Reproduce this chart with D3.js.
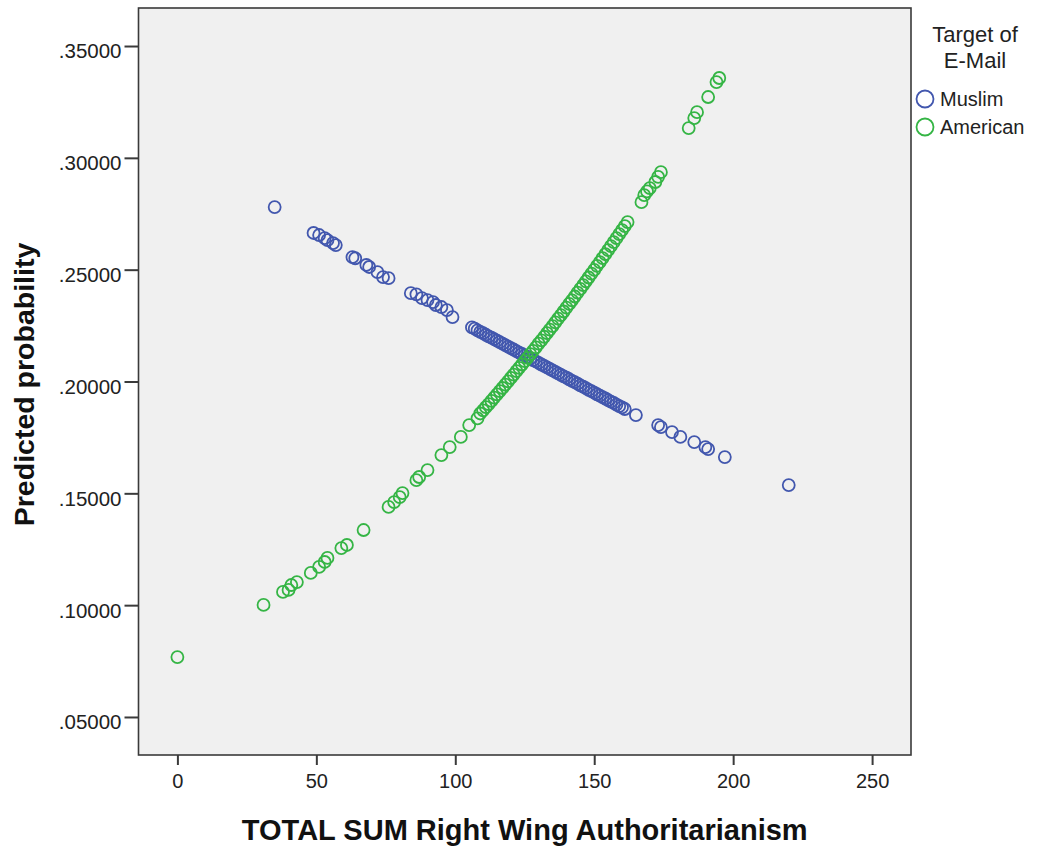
<!DOCTYPE html>
<html>
<head>
<meta charset="utf-8">
<script src="https://cdn.jsdelivr.net/npm/d3@7"></script>
<style>
  body { margin: 0; background: #ffffff; }
  svg text { font-family: "Liberation Sans", Arial, sans-serif; }
</style>
</head>
<body>
<div id="chart"></div>
<script>
// RWA total score vs predicted probability, split by e-mail target
const muslimScores = [35, 49, 51, 53, 54, 56, 57, 63, 64, 68, 69, 72, 74, 76, 84, 86, 88, 90, 92, 93, 95, 97, 99,
    106, 107, 108, 109, 110, 111, 112, 113, 114, 115, 116, 117, 118, 119, 120, 121, 122, 123, 124, 125, 126, 127,
    128, 129, 130, 131, 132, 133, 134, 135, 136, 137, 138, 139, 140, 141, 142, 143, 144, 145, 146, 147, 148, 149,
    150, 151, 152, 153, 154, 155, 156, 157, 158, 159, 160, 161,
    165, 173, 174, 178, 181, 186, 190, 191, 197, 220]
const muslimProb = [0.2780, 0.2664, 0.2655, 0.2641, 0.2632, 0.2619, 0.2610, 0.2556, 0.2551, 0.2521, 0.2512, 0.2489,
    0.2467, 0.2462, 0.2395, 0.2390, 0.2373, 0.2364, 0.2355, 0.2342, 0.2333, 0.2319, 0.2288,
    0.2242, 0.2236, 0.2229, 0.2222, 0.2216, 0.2209, 0.2202, 0.2196, 0.2189, 0.2183, 0.2176, 0.2169, 0.2163, 0.2156,
    0.2149, 0.2143, 0.2136, 0.2129, 0.2123, 0.2116, 0.2110, 0.2103, 0.2096, 0.2090, 0.2083, 0.2076, 0.2070, 0.2063,
    0.2056, 0.2050, 0.2043, 0.2036, 0.2030, 0.2023, 0.2017, 0.2010, 0.2003, 0.1997, 0.1990, 0.1983, 0.1977, 0.1970,
    0.1963, 0.1957, 0.1950, 0.1943, 0.1937, 0.1930, 0.1924, 0.1917, 0.1910, 0.1904, 0.1897, 0.1890, 0.1884, 0.1877,
    0.1850, 0.1805, 0.1796, 0.1774, 0.1752, 0.1729, 0.1707, 0.1698, 0.1662, 0.1537]

const americanScores = [0, 31, 38, 40, 41, 43, 48, 51, 53, 54, 59, 61, 67, 76, 78, 80, 81, 86, 87, 90, 95, 98, 102, 105,
    108, 109, 110, 111, 112, 113, 114, 115, 116, 117, 118, 119, 120, 121, 122, 123, 124, 125, 126, 127, 128, 129,
    130, 131, 132, 133, 134, 135, 136, 137, 138, 139, 140, 141, 142, 143, 144, 145, 146, 147, 148, 149, 150, 151,
    152, 153, 154, 155, 156, 157, 158, 159, 160, 161, 162,
    167, 168, 169, 170, 172, 173, 174, 184, 186, 187, 191, 194, 195]
const americanProb = [0.0768, 0.1001, 0.1059, 0.1068, 0.1090, 0.1103, 0.1144, 0.1171, 0.1193, 0.1211, 0.1255, 0.1269,
    0.1336, 0.1439, 0.1461, 0.1483, 0.1501, 0.1559, 0.1573, 0.1604, 0.1671, 0.1707, 0.1752, 0.1805,
    0.1835, 0.1857, 0.1871, 0.1885, 0.1899, 0.1913, 0.1928, 0.1942, 0.1957, 0.1971, 0.1986, 0.2001, 0.2016, 0.2031,
    0.2046, 0.2061, 0.2076, 0.2091, 0.2106, 0.2122, 0.2137, 0.2153, 0.2169, 0.2184, 0.2200, 0.2216, 0.2232, 0.2248,
    0.2264, 0.2281, 0.2297, 0.2313, 0.2330, 0.2347, 0.2363, 0.2380, 0.2397, 0.2414, 0.2431, 0.2448, 0.2465, 0.2482,
    0.2499, 0.2517, 0.2534, 0.2552, 0.2569, 0.2587, 0.2605, 0.2623, 0.2641, 0.2659, 0.2677, 0.2695, 0.2713,
    0.2802, 0.2833, 0.2850, 0.2865, 0.2892, 0.2915, 0.2936, 0.3133, 0.3178, 0.3204, 0.3272, 0.3339, 0.3357]

const groups = ["Muslim", "American"]
const groupColors = ["#4257ae", "#35b545"]
const xTicks = [0, 50, 100, 150, 200, 250]
const yTicks = [0.05, 0.10, 0.15, 0.20, 0.25, 0.30, 0.35]

const width = 1037, height = 848
const plot = { left: 138.5, right: 911, top: 8, bottom: 755 }

const svg = d3.select("#chart")
    .append("svg")
    .attr("width", width)
    .attr("height", height)

const x = d3.scaleLinear().domain([-14, 264]).range([plot.left, plot.right])
const y = d3.scaleLinear().domain([0.033, 0.367]).range([plot.bottom, plot.top])

// plot background + frame
svg.append("rect")
    .attr("x", plot.left)
    .attr("y", plot.top)
    .attr("width", plot.right - plot.left)
    .attr("height", plot.bottom - plot.top)
    .attr("fill", "#f0f0f0")
    .attr("stroke", "#3a3a3a")
    .attr("stroke-width", 1.6)

const xAxis = svg.append("g")
    .attr("transform", `translate(0,${plot.bottom})`)
    .call(d3.axisBottom(x).tickValues(xTicks).tickSize(10).tickPadding(9).tickFormat(d3.format("d")))
xAxis.select(".domain").remove()

const yAxis = svg.append("g")
    .attr("transform", `translate(${plot.left},0)`)
    .call(d3.axisLeft(y).tickValues(yTicks).tickSize(14).tickPadding(3)
        .tickFormat(d => d3.format(".5f")(d).replace(/^0/, "")))
yAxis.select(".domain").remove()

svg.selectAll(".tick line").attr("stroke", "#3a3a3a").attr("stroke-width", 2)
xAxis.selectAll("text").attr("font-size", "20px").attr("fill", "#222")
yAxis.selectAll("text").attr("font-size", "20.5px").attr("fill", "#222").attr("dy", "0.58em")

// points, Muslim first so American sits on top
const series = [
    { name: groups[0], scores: muslimScores, prob: muslimProb, color: groupColors[0] },
    { name: groups[1], scores: americanScores, prob: americanProb, color: groupColors[1] }
]
series.forEach(s => {
    svg.append("g")
        .selectAll("circle")
        .data(d3.zip(s.scores, s.prob))
        .join("circle")
        .attr("cx", d => x(d[0]))
        .attr("cy", d => y(d[1]))
        .attr("r", 6)
        .attr("fill", "none")
        .attr("stroke", s.color)
        .attr("stroke-width", 1.8)
})

// axis titles
svg.append("text")
    .attr("x", (plot.left + plot.right) / 2)
    .attr("y", 840)
    .attr("text-anchor", "middle")
    .attr("font-size", "29px")
    .attr("font-weight", "bold")
    .attr("fill", "#111")
    .text("TOTAL SUM Right Wing Authoritarianism")

svg.append("text")
    .attr("transform", `translate(34,${(plot.top + plot.bottom) / 2 + 3}) rotate(-90)`)
    .attr("text-anchor", "middle")
    .attr("font-size", "28.5px")
    .attr("font-weight", "bold")
    .attr("fill", "#111")
    .text("Predicted probability")

// legend
const legend = svg.append("g")
legend.append("text").attr("x", 975).attr("y", 42).attr("text-anchor", "middle")
    .attr("font-size", "22px").attr("fill", "#222").text("Target of")
legend.append("text").attr("x", 975).attr("y", 68).attr("text-anchor", "middle")
    .attr("font-size", "22px").attr("fill", "#222").text("E-Mail")

groups.forEach((g, i) => {
    const cy = 99 + i * 28
    legend.append("circle")
        .attr("cx", 925).attr("cy", cy).attr("r", 8.5)
        .attr("fill", "none").attr("stroke", groupColors[i]).attr("stroke-width", 1.8)
    legend.append("text")
        .attr("x", 940).attr("y", cy + 7)
        .attr("font-size", "20px").attr("fill", "#222")
        .text(g)
})
</script>
</body>
</html>
